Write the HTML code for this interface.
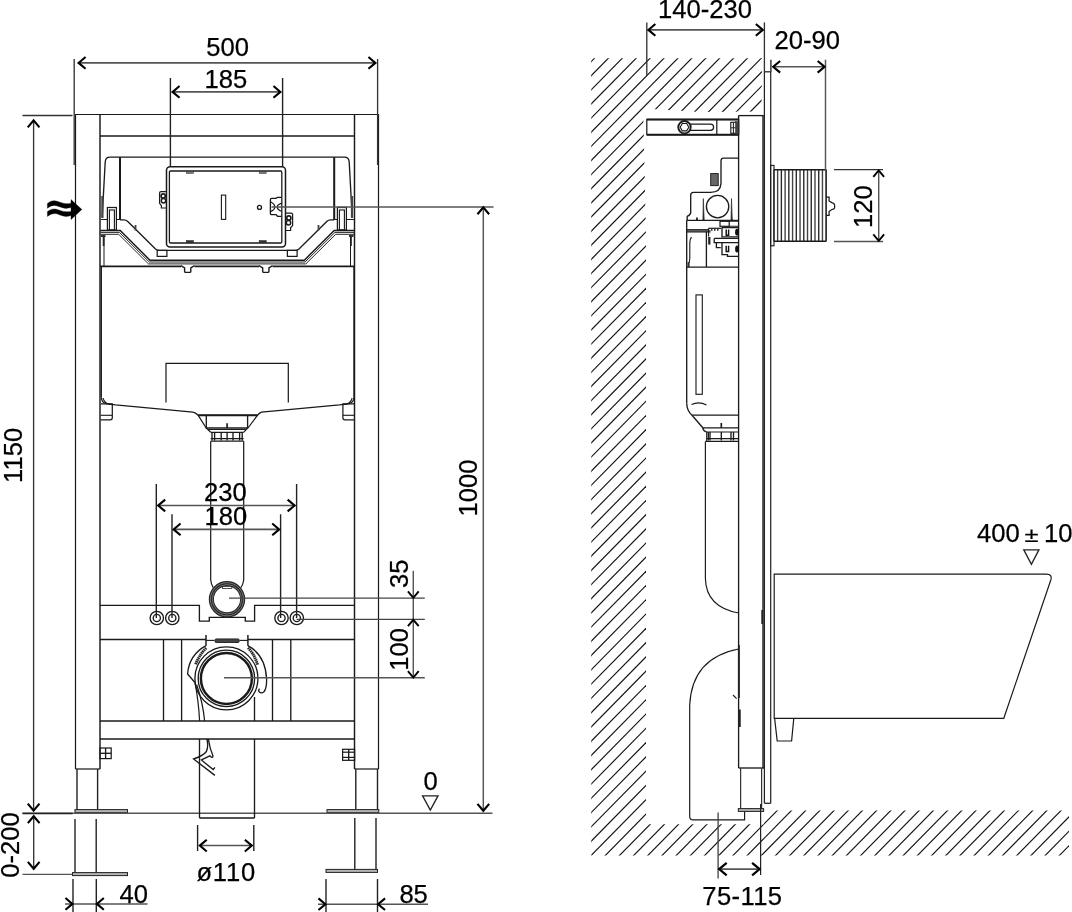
<!DOCTYPE html>
<html><head><meta charset="utf-8"><title>Installation frame dimensions</title>
<style>
html,body{margin:0;padding:0;background:#fff;}
body{width:1072px;height:912px;overflow:hidden;}
svg{display:block;}
svg text{font-family:"Liberation Sans",sans-serif;fill:#000;stroke:#000;stroke-width:0.25px;}
</style></head><body>
<svg width="1072" height="912" viewBox="0 0 1072 912" style="filter:grayscale(1)">
<rect x="0" y="0" width="1072" height="912" fill="#fff"/>
<g id="front-view">
<line x1="75.5" y1="114.5" x2="75.5" y2="769" stroke="#1a1a1a" stroke-width="1.23" />
<line x1="378.5" y1="114.5" x2="378.5" y2="769" stroke="#1a1a1a" stroke-width="1.23" />
<line x1="75" y1="114.5" x2="379" y2="114.5" stroke="#1a1a1a" stroke-width="1.23" />
<line x1="100" y1="114.5" x2="100" y2="769" stroke="#1a1a1a" stroke-width="1.46" />
<line x1="354.5" y1="114.5" x2="354.5" y2="769" stroke="#1a1a1a" stroke-width="1.46" />
<line x1="100" y1="136" x2="354.5" y2="136" stroke="#1a1a1a" stroke-width="1.46" />
<line x1="75.5" y1="769" x2="100" y2="769" stroke="#1a1a1a" stroke-width="1.23" />
<line x1="354.5" y1="769" x2="378.5" y2="769" stroke="#1a1a1a" stroke-width="1.23" />
<line x1="77" y1="769" x2="77" y2="809.5" stroke="#222" stroke-width="1.4" />
<line x1="97.6" y1="769" x2="97.6" y2="809.5" stroke="#222" stroke-width="1.4" />
<line x1="355.8" y1="769" x2="355.8" y2="809.5" stroke="#222" stroke-width="1.4" />
<line x1="377.5" y1="769" x2="377.5" y2="809.5" stroke="#222" stroke-width="1.4" />
<rect x="75" y="809.6" width="52.5" height="3" rx="0" stroke="#222" stroke-width="1.01" fill="#b5b5b5"/>
<rect x="327" y="809.6" width="51.8" height="3" rx="0" stroke="#222" stroke-width="1.01" fill="#b5b5b5"/>
<line x1="22.5" y1="813.3" x2="492.5" y2="813.3" stroke="#555" stroke-width="1.46" />
<line x1="22.5" y1="813.5" x2="72.5" y2="813.5" stroke="#222" stroke-width="1.57" />
<line x1="75" y1="819" x2="75" y2="872.5" stroke="#222" stroke-width="1.4" />
<line x1="96.2" y1="819" x2="96.2" y2="872.5" stroke="#222" stroke-width="1.4" />
<line x1="354.8" y1="818" x2="354.8" y2="869.5" stroke="#222" stroke-width="1.4" />
<line x1="376" y1="818" x2="376" y2="869.5" stroke="#222" stroke-width="1.4" />
<rect x="72.5" y="872.6" width="55" height="3" rx="0" stroke="#222" stroke-width="1.01" fill="#b5b5b5"/>
<rect x="326" y="869.4" width="51.5" height="3" rx="0" stroke="#222" stroke-width="1.01" fill="#b5b5b5"/>
<line x1="22.5" y1="874.3" x2="72.5" y2="874.3" stroke="#555" stroke-width="1.34" />
<rect x="100" y="748" width="11.2" height="10.6" rx="0" stroke="#1a1a1a" stroke-width="1.23" fill="none"/>
<line x1="100" y1="753.3" x2="111.2" y2="753.3" stroke="#1a1a1a" stroke-width="1.34" />
<line x1="105.6" y1="748" x2="105.6" y2="758.6" stroke="#1a1a1a" stroke-width="1.34" />
<rect x="342.6" y="749.3" width="12" height="11" rx="0" stroke="#1a1a1a" stroke-width="1.23" fill="none"/>
<line x1="348.7" y1="749.3" x2="348.7" y2="760.3" stroke="#1a1a1a" stroke-width="1.34" />
<line x1="342.6" y1="752.2" x2="354.6" y2="752.2" stroke="#1a1a1a" stroke-width="1.23" />
<line x1="342.6" y1="757.4" x2="354.6" y2="757.4" stroke="#1a1a1a" stroke-width="1.23" />
<path d="M100,605.3 H199.4 V621.1 H209.3 V617.4 H245.3 V621.1 H254.6 V605.3 H354.5" stroke="#1a1a1a" stroke-width="1.34" fill="none" />
<line x1="100" y1="639.5" x2="206" y2="639.5" stroke="#1a1a1a" stroke-width="1.51" />
<line x1="248" y1="639.5" x2="354.5" y2="639.5" stroke="#1a1a1a" stroke-width="1.51" />
<line x1="163.5" y1="639.5" x2="163.5" y2="721" stroke="#1a1a1a" stroke-width="1.34" />
<line x1="181.6" y1="639.5" x2="181.6" y2="721" stroke="#1a1a1a" stroke-width="1.34" />
<line x1="272.5" y1="639.5" x2="272.5" y2="721" stroke="#1a1a1a" stroke-width="1.34" />
<line x1="290.8" y1="639.5" x2="290.8" y2="721" stroke="#1a1a1a" stroke-width="1.34" />
<line x1="100" y1="721" x2="354.5" y2="721" stroke="#1a1a1a" stroke-width="1.51" />
<line x1="100" y1="739" x2="354.5" y2="739" stroke="#1a1a1a" stroke-width="1.51" />
<circle cx="156.8" cy="618" r="6.7" stroke="#1a1a1a" stroke-width="1.34" fill="none"/>
<circle cx="156.8" cy="618" r="3.6" stroke="#1a1a1a" stroke-width="1.34" fill="none"/>
<circle cx="172.3" cy="618" r="6.7" stroke="#1a1a1a" stroke-width="1.34" fill="none"/>
<circle cx="172.3" cy="618" r="3.6" stroke="#1a1a1a" stroke-width="1.34" fill="none"/>
<circle cx="281.5" cy="618" r="6.7" stroke="#1a1a1a" stroke-width="1.34" fill="none"/>
<circle cx="281.5" cy="618" r="3.6" stroke="#1a1a1a" stroke-width="1.34" fill="none"/>
<circle cx="296.8" cy="618" r="6.7" stroke="#1a1a1a" stroke-width="1.34" fill="none"/>
<circle cx="296.8" cy="618" r="3.6" stroke="#1a1a1a" stroke-width="1.34" fill="none"/>
<path d="M102.2,217 L105.2,162 Q105.6,157.2 110,157.2 H344.4 Q348.8,157.2 349.2,162 L352.2,217" stroke="#1a1a1a" stroke-width="1.34" fill="none" />
<line x1="120" y1="157.2" x2="120" y2="220" stroke="#1a1a1a" stroke-width="2.02" />
<line x1="334.2" y1="157.2" x2="334.2" y2="220" stroke="#1a1a1a" stroke-width="2.02" />
<line x1="102.4" y1="196" x2="102.4" y2="218" stroke="#444" stroke-width="2.24" />
<line x1="352" y1="196" x2="352" y2="218" stroke="#444" stroke-width="2.24" />
<rect x="107.4" y="207.5" width="9" height="22.5" rx="0" stroke="#1a1a1a" stroke-width="1.23" fill="none"/>
<rect x="109.4" y="210" width="5" height="20" rx="0" stroke="#1a1a1a" stroke-width="1.12" fill="none"/>
<rect x="337.4" y="207.5" width="9" height="22.5" rx="0" stroke="#1a1a1a" stroke-width="1.23" fill="none"/>
<rect x="339.4" y="210" width="5" height="20" rx="0" stroke="#1a1a1a" stroke-width="1.12" fill="none"/>
<path d="M101,219.5 H107.4 M116.4,219.5 H120" stroke="#1a1a1a" stroke-width="1.23" fill="none" />
<path d="M334.2,219.5 H337.4 M346.4,219.5 H354" stroke="#1a1a1a" stroke-width="1.23" fill="none" />
<path d="M120,219.8 H124 Q126,219.8 127.5,221.3 L155.5,248.9 Q157.2,250.4 159.5,250.4 H295 Q297.3,250.4 299,248.9 L327,221.3 Q328.5,219.8 330.5,219.8 H334.2" stroke="#1a1a1a" stroke-width="1.34" fill="none" />
<line x1="135.5" y1="225" x2="135.5" y2="230.5" stroke="#444" stroke-width="1.79" />
<line x1="318.5" y1="225" x2="318.5" y2="230.5" stroke="#444" stroke-width="1.79" />
<path d="M100.5,230.6 H120.2 L150.0,260.2 H304.3 L334.2,230.6 H354" stroke="#1a1a1a" stroke-width="1.46" fill="none" />
<path d="M100.5,232.4 H119.462 L149.262,262.0 H305.038 L334.938,232.4 H354" stroke="#1a1a1a" stroke-width="0.95" fill="none" />
<path d="M100.5,234.29999999999998 H118.683 L148.483,263.9 H305.817 L335.717,234.29999999999998 H354" stroke="#1a1a1a" stroke-width="0.95" fill="none" />
<path d="M101,236 H105.5 M103.6,236 V246" stroke="#333" stroke-width="1.79" fill="none" />
<path d="M353.5,236 H349 M351,236 V246" stroke="#333" stroke-width="1.79" fill="none" />
<line x1="104" y1="236" x2="104" y2="266" stroke="#1a1a1a" stroke-width="1.01" />
<line x1="350.5" y1="236" x2="350.5" y2="266" stroke="#1a1a1a" stroke-width="1.01" />
<rect x="157.2" y="250.4" width="9.7" height="6" rx="0" stroke="#1a1a1a" stroke-width="1.23" fill="none"/>
<rect x="287.4" y="250.4" width="9.7" height="6" rx="0" stroke="#1a1a1a" stroke-width="1.23" fill="none"/>
<path d="M100,266.3 H181 M194.5,266.3 H259 M272.6,266.3 H354.5" stroke="#1a1a1a" stroke-width="1.68" fill="none" />
<path d="M180.89999999999998,265.7 L184.6,268 V271.4 Q184.6,272.4 185.6,272.4 H189.79999999999998 Q190.79999999999998,272.4 190.79999999999998,271.4 V268 L194.5,265.7" stroke="#1a1a1a" stroke-width="1.4" fill="none" />
<path d="M259.0,265.7 L262.7,268 V271.4 Q262.7,272.4 263.7,272.4 H267.90000000000003 Q268.90000000000003,272.4 268.90000000000003,271.4 V268 L272.6,265.7" stroke="#1a1a1a" stroke-width="1.4" fill="none" />
<rect x="166.5" y="166.8" width="119" height="80.3" rx="3.5" stroke="#1a1a1a" stroke-width="1.51" fill="#fff"/>
<rect x="169.4" y="171" width="112.4" height="72" rx="1.2" stroke="#1a1a1a" stroke-width="1.29" fill="none"/>
<rect x="186.4" y="171.3" width="7" height="2" rx="0" stroke="#333" stroke-width="0.56" fill="#777"/>
<rect x="186.4" y="240.6" width="7" height="2" rx="0" stroke="#222" stroke-width="0.56" fill="#333"/>
<rect x="259.2" y="171.3" width="7" height="2" rx="0" stroke="#333" stroke-width="0.56" fill="#777"/>
<rect x="259.2" y="240.6" width="7" height="2" rx="0" stroke="#222" stroke-width="0.56" fill="#333"/>
<rect x="221.4" y="195.1" width="4.3" height="24.3" rx="0" stroke="#1a1a1a" stroke-width="1.12" fill="none"/>
<circle cx="259.5" cy="207.4" r="2.0" stroke="#1a1a1a" stroke-width="1.34" fill="none"/>
<path d="M281.7,197.3 H277.5 L276.1,198.4 H271.6 Q270.4,198.5 270.4,199.9 V213.4 Q270.4,214.6 271.6,214.6 H276.1 L277.5,216.3 H281.7" stroke="#1a1a1a" stroke-width="1.34" fill="none" />
<path d="M270.9,202 Q274.8,204 274.8,206.9 Q274.8,209.6 270.9,211.4" stroke="#1a1a1a" stroke-width="1.23" fill="none" />
<path d="M281.7,203.1 Q277.2,204.6 277.2,206.9 Q277.2,209.4 281.7,211.3" stroke="#1a1a1a" stroke-width="1.23" fill="none" />
<path d="M166.5,191.6 H161 Q159.6,191.6 159.6,193 V203.4 L161.4,205.6 V208 H166.5" stroke="#1a1a1a" stroke-width="1.23" fill="none" />
<circle cx="163.2" cy="196" r="2.1" stroke="#1a1a1a" stroke-width="1.68" fill="none"/>
<circle cx="163.5" cy="200.8" r="2.2" stroke="#1a1a1a" stroke-width="1.46" fill="none"/>
<path d="M285.5,213.2 H291.2 Q292.6,213.2 292.6,214.6 V225.6 L290.6,227.8 V230.5 H285.5" stroke="#1a1a1a" stroke-width="1.23" fill="none" />
<circle cx="288.8" cy="217.9" r="2.1" stroke="#1a1a1a" stroke-width="1.68" fill="none"/>
<circle cx="288.5" cy="222.7" r="2.2" stroke="#1a1a1a" stroke-width="1.46" fill="none"/>
<line x1="101.3" y1="266.8" x2="101.3" y2="397.5" stroke="#1a1a1a" stroke-width="1.34" />
<line x1="354" y1="266.8" x2="354" y2="397.5" stroke="#1a1a1a" stroke-width="1.34" />
<path d="M101.3,397.5 Q101.8,402.5 106,403.6 L115.5,404.9 L192.9,412.2 Q195.5,412.6 198.2,415.3 H257.4 Q260,412.6 261.5,412.2 L339.5,404.9 L349,403.6 Q353.5,402.5 354,397.5" stroke="#1a1a1a" stroke-width="1.34" fill="none" />
<line x1="198.2" y1="415.3" x2="257.4" y2="415.3" stroke="#1a1a1a" stroke-width="2.02" />
<path d="M166,402.4 V363.3 H288.3 V402.4" stroke="#1a1a1a" stroke-width="1.23" fill="none" />
<path d="M100.6,403.8 h11.7 v14 q0,2 -2,2 h-9.7" stroke="#1a1a1a" stroke-width="1.23" fill="none" />
<path d="M100.6,415.3 h11.7" stroke="#1a1a1a" stroke-width="1.12" fill="none" />
<path d="M103.1,398 q1,6 9,6.8" stroke="#1a1a1a" stroke-width="1.12" fill="none" />
<path d="M354.6,403.8 h-11.7 v14 q0,2 2,2 h9.7" stroke="#1a1a1a" stroke-width="1.23" fill="none" />
<path d="M354.6,415.3 h-11.7" stroke="#1a1a1a" stroke-width="1.12" fill="none" />
<path d="M352.1,398 q-1,6 -9,6.8" stroke="#1a1a1a" stroke-width="1.12" fill="none" />
<path d="M198.2,415.3 L206.2,428 M257.4,415.3 L248,428" stroke="#1a1a1a" stroke-width="1.23" fill="none" />
<path d="M206.3,415.3 V428 H247.6 V415.3" stroke="#1a1a1a" stroke-width="1.34" fill="none" />
<line x1="227.1" y1="423.2" x2="227.1" y2="428" stroke="#1a1a1a" stroke-width="1.68" />
<path d="M206.3,428 L210.7,432.3 M247.6,428 L243.6,432.3" stroke="#1a1a1a" stroke-width="1.23" fill="none" />
<line x1="208" y1="429.5" x2="246" y2="429.5" stroke="#1a1a1a" stroke-width="1.23" />
<line x1="210.7" y1="432.3" x2="243.6" y2="432.3" stroke="#1a1a1a" stroke-width="1.23" />
<line x1="212" y1="432.3" x2="212" y2="440.5" stroke="#1a1a1a" stroke-width="1.34" />
<line x1="214.6" y1="432.3" x2="214.6" y2="440.5" stroke="#1a1a1a" stroke-width="1.34" />
<line x1="221.2" y1="432.3" x2="221.2" y2="440.5" stroke="#1a1a1a" stroke-width="1.34" />
<line x1="227.1" y1="432.3" x2="227.1" y2="440.5" stroke="#1a1a1a" stroke-width="1.34" />
<line x1="233" y1="432.3" x2="233" y2="440.5" stroke="#1a1a1a" stroke-width="1.34" />
<line x1="239.6" y1="432.3" x2="239.6" y2="440.5" stroke="#1a1a1a" stroke-width="1.34" />
<line x1="242.2" y1="432.3" x2="242.2" y2="440.5" stroke="#1a1a1a" stroke-width="1.34" />
<line x1="210.7" y1="438.7" x2="243.6" y2="438.7" stroke="#1a1a1a" stroke-width="1.34" />
<line x1="210.7" y1="441.2" x2="243.8" y2="441.2" stroke="#1a1a1a" stroke-width="1.23" />
<path d="M210.7,441.2 V580 Q211.2,584.5 213.2,587.6" stroke="#1a1a1a" stroke-width="1.23" fill="none" />
<path d="M243.7,441.2 V580 Q243.2,584.5 240.9,587.6" stroke="#1a1a1a" stroke-width="1.23" fill="none" />
<circle cx="227" cy="599.3" r="15.65" stroke="#262626" stroke-width="5.15" fill="none"/>
<circle cx="227" cy="599.3" r="16.6" stroke="#c8c8c8" stroke-width="0.5" fill="none"/>
<circle cx="227" cy="599.3" r="14.7" stroke="#bdbdbd" stroke-width="0.5" fill="none"/>
<rect x="222.6" y="586.6" width="9.2" height="1.9" rx="0" stroke="#222" stroke-width="0.78" fill="#fff"/>
<circle cx="226.4" cy="678.4" r="31.5" stroke="#1a1a1a" stroke-width="1.34" fill="none"/>
<circle cx="226.4" cy="678.4" r="28.2" stroke="#1a1a1a" stroke-width="1.34" fill="none"/>
<circle cx="226.4" cy="678.4" r="25.5" stroke="#1a1a1a" stroke-width="2.46" fill="none"/>
<path d="M206,635 V645.7 M247.9,635 V645.7" stroke="#1a1a1a" stroke-width="1.46" fill="none" />
<line x1="206" y1="640.4" x2="214.6" y2="640.4" stroke="#1a1a1a" stroke-width="1.12" />
<line x1="239.6" y1="640.4" x2="247.9" y2="640.4" stroke="#1a1a1a" stroke-width="1.12" />
<rect x="215" y="638.9" width="24.2" height="3.6" rx="1.2" stroke="#222" stroke-width="0.9" fill="#444"/>
<path d="M206,645.7 Q189,655 187.6,674 L194.9,682.5" stroke="#1a1a1a" stroke-width="1.34" fill="none" />
<path d="M247.9,645.7 Q265.5,655 266.6,679 Q266.8,688 264.2,691.5 Q261.5,694 259.3,692 Q258,690.3 259.6,688.8" stroke="#1a1a1a" stroke-width="1.34" fill="none" />
<path d="M195.6,664.2 Q199.5,654.5 206.6,647.6" stroke="#262626" stroke-width="2.91" fill="none" stroke-dasharray="1.5 0.5"/>
<path d="M257.6,664.6 Q254.5,654.5 247.8,647.4" stroke="#262626" stroke-width="2.91" fill="none" stroke-dasharray="1.5 0.5"/>
<path d="M194.9,682.5 Q198.5,700 199.6,721 M196.6,684.5 Q203,703 204.6,721" stroke="#1a1a1a" stroke-width="1.23" fill="none" />
<path d="M207,739 Q208.6,747 206.4,751.5 Q203.5,755.5 193.6,759 L214.9,775.4 M208.4,739 Q209.6,748 213,756 Q212.4,758.8 209.8,755.8 L201.4,760 L213.2,769.6 L214.9,767.4" stroke="#1a1a1a" stroke-width="1.34" fill="none" />
<line x1="199.5" y1="739" x2="199.5" y2="818" stroke="#1a1a1a" stroke-width="1.34" />
<line x1="254.5" y1="739" x2="254.5" y2="818" stroke="#1a1a1a" stroke-width="1.34" />
<line x1="199.5" y1="818" x2="254.5" y2="818" stroke="#1a1a1a" stroke-width="1.34" />
<line x1="254.5" y1="697" x2="254.5" y2="721" stroke="#1a1a1a" stroke-width="1.34" />
<line x1="74.2" y1="59" x2="74.2" y2="165" stroke="#333" stroke-width="1.34" />
<line x1="377.6" y1="59" x2="377.6" y2="165" stroke="#333" stroke-width="1.34" />
<line x1="79" y1="62.9" x2="375" y2="62.9" stroke="#555" stroke-width="1.57" />
<path d="M85.55999999999999,57.05 L78.6,62.9 L85.55999999999999,68.75" stroke="#000" stroke-width="2.13" fill="none" stroke-linejoin="miter"/>
<path d="M368.44,57.05 L375.4,62.9 L368.44,68.75" stroke="#000" stroke-width="2.13" fill="none" stroke-linejoin="miter"/>
<text x="227.6" y="56.3" font-size="25.6" text-anchor="middle">500</text>
<line x1="170.4" y1="78" x2="170.4" y2="166.5" stroke="#222" stroke-width="1.4" />
<line x1="282.6" y1="78" x2="282.6" y2="166.5" stroke="#222" stroke-width="1.4" />
<line x1="173" y1="91.9" x2="280" y2="91.9" stroke="#555" stroke-width="1.57" />
<path d="M179.56,86.05000000000001 L172.6,91.9 L179.56,97.75" stroke="#000" stroke-width="2.13" fill="none" stroke-linejoin="miter"/>
<path d="M273.44,86.05000000000001 L280.4,91.9 L273.44,97.75" stroke="#000" stroke-width="2.13" fill="none" stroke-linejoin="miter"/>
<text x="225.8" y="87.7" font-size="25.6" text-anchor="middle">185</text>
<line x1="22.5" y1="115.5" x2="72.5" y2="115.5" stroke="#333" stroke-width="1.34" />
<line x1="33.6" y1="121" x2="33.6" y2="810" stroke="#333" stroke-width="1.34" />
<path d="M27.75,127.36 L33.6,120.4 L39.45,127.36" stroke="#000" stroke-width="2.13" fill="none" stroke-linejoin="miter"/>
<path d="M27.75,803.64 L33.6,810.6 L39.45,803.64" stroke="#000" stroke-width="2.13" fill="none" stroke-linejoin="miter"/>
<text x="22.3" y="455.4" font-size="25.6" text-anchor="middle" transform="rotate(-90 22.3 455.4)">1150</text>
<line x1="33.7" y1="817" x2="33.7" y2="868" stroke="#333" stroke-width="1.34" />
<path d="M27.85,823.1600000000001 L33.7,816.2 L39.550000000000004,823.1600000000001" stroke="#000" stroke-width="2.13" fill="none" stroke-linejoin="miter"/>
<path d="M27.85,861.8399999999999 L33.7,868.8 L39.550000000000004,861.8399999999999" stroke="#000" stroke-width="2.13" fill="none" stroke-linejoin="miter"/>
<text x="18.6" y="845" font-size="25.6" text-anchor="middle" transform="rotate(-90 18.6 845)">0-200</text>
<line x1="73" y1="879" x2="73" y2="912" stroke="#222" stroke-width="1.4" />
<line x1="96.3" y1="879" x2="96.3" y2="912" stroke="#222" stroke-width="1.4" />
<line x1="65" y1="903.9" x2="147.5" y2="903.9" stroke="#555" stroke-width="1.46" />
<path d="M65.44000000000001,898.05 L72.4,903.9 L65.44000000000001,909.75" stroke="#000" stroke-width="2.13" fill="none" stroke-linejoin="miter"/>
<path d="M103.86,898.05 L96.9,903.9 L103.86,909.75" stroke="#000" stroke-width="2.13" fill="none" stroke-linejoin="miter"/>
<text x="119.5" y="902.6" font-size="25.6" text-anchor="start">40</text>
<line x1="326" y1="879" x2="326" y2="912" stroke="#222" stroke-width="1.4" />
<line x1="377.5" y1="879" x2="377.5" y2="912" stroke="#222" stroke-width="1.4" />
<line x1="318" y1="904.2" x2="428" y2="904.2" stroke="#555" stroke-width="1.46" />
<path d="M318.44,898.35 L325.4,904.2 L318.44,910.0500000000001" stroke="#000" stroke-width="2.13" fill="none" stroke-linejoin="miter"/>
<path d="M385.06,898.35 L378.1,904.2 L385.06,910.0500000000001" stroke="#000" stroke-width="2.13" fill="none" stroke-linejoin="miter"/>
<text x="399.4" y="902.6" font-size="25.6" text-anchor="start">85</text>
<line x1="197.6" y1="825" x2="197.6" y2="851" stroke="#222" stroke-width="1.4" />
<line x1="253.8" y1="825" x2="253.8" y2="851" stroke="#222" stroke-width="1.4" />
<line x1="200" y1="845.6" x2="251.5" y2="845.6" stroke="#555" stroke-width="1.46" />
<path d="M206.76000000000002,839.75 L199.8,845.6 L206.76000000000002,851.45" stroke="#000" stroke-width="2.13" fill="none" stroke-linejoin="miter"/>
<path d="M244.84,839.75 L251.8,845.6 L244.84,851.45" stroke="#000" stroke-width="2.13" fill="none" stroke-linejoin="miter"/>
<text x="226.2" y="881.3" font-size="25.6" text-anchor="middle" letter-spacing="0.8">ø110</text>
<line x1="156.3" y1="484" x2="156.3" y2="618" stroke="#222" stroke-width="1.4" />
<line x1="296.6" y1="484" x2="296.6" y2="618" stroke="#222" stroke-width="1.4" />
<line x1="172" y1="514.3" x2="172" y2="618" stroke="#222" stroke-width="1.4" />
<line x1="280.6" y1="514.3" x2="280.6" y2="618" stroke="#222" stroke-width="1.4" />
<line x1="159" y1="505.5" x2="294" y2="505.5" stroke="#555" stroke-width="1.57" />
<path d="M165.16,499.65 L158.2,505.5 L165.16,511.35" stroke="#000" stroke-width="2.13" fill="none" stroke-linejoin="miter"/>
<path d="M287.64000000000004,499.65 L294.6,505.5 L287.64000000000004,511.35" stroke="#000" stroke-width="2.13" fill="none" stroke-linejoin="miter"/>
<line x1="174" y1="529.4" x2="279" y2="529.4" stroke="#555" stroke-width="1.57" />
<path d="M180.56,523.55 L173.6,529.4 L180.56,535.25" stroke="#000" stroke-width="2.13" fill="none" stroke-linejoin="miter"/>
<path d="M272.24,523.55 L279.2,529.4 L272.24,535.25" stroke="#000" stroke-width="2.13" fill="none" stroke-linejoin="miter"/>
<text x="225.4" y="501.2" font-size="25.6" text-anchor="middle">230</text>
<text x="225.8" y="525.3" font-size="25.6" text-anchor="middle">180</text>
<line x1="271.5" y1="206.9" x2="493.5" y2="206.9" stroke="#555" stroke-width="1.46" />
<line x1="483.3" y1="208" x2="483.3" y2="810" stroke="#555" stroke-width="1.46" />
<path d="M477.45,214.26000000000002 L483.3,207.3 L489.15000000000003,214.26000000000002" stroke="#000" stroke-width="2.13" fill="none" stroke-linejoin="miter"/>
<path d="M477.45,803.8399999999999 L483.3,810.8 L489.15000000000003,803.8399999999999" stroke="#000" stroke-width="2.13" fill="none" stroke-linejoin="miter"/>
<text x="476.5" y="488" font-size="25.6" text-anchor="middle" transform="rotate(-90 476.5 488)">1000</text>
<line x1="229" y1="598.2" x2="424.8" y2="598.2" stroke="#444" stroke-width="1.34" />
<line x1="296.6" y1="619.4" x2="424.8" y2="619.4" stroke="#444" stroke-width="1.34" />
<line x1="224" y1="677.8" x2="424.8" y2="677.8" stroke="#555" stroke-width="1.46" />
<line x1="413.3" y1="570.8" x2="413.3" y2="677.5" stroke="#555" stroke-width="1.46" />
<path d="M407.90000000000003,591.38 L413.3,597.8 L418.7,591.38" stroke="#000" stroke-width="1.9" fill="none" stroke-linejoin="miter"/>
<path d="M407.90000000000003,626.2199999999999 L413.3,619.8 L418.7,626.2199999999999" stroke="#000" stroke-width="1.9" fill="none" stroke-linejoin="miter"/>
<path d="M407.90000000000003,671.1800000000001 L413.3,677.6 L418.7,671.1800000000001" stroke="#000" stroke-width="1.9" fill="none" stroke-linejoin="miter"/>
<text x="407.8" y="573.8" font-size="25.6" text-anchor="middle" transform="rotate(-90 407.8 573.8)">35</text>
<text x="407.8" y="649.3" font-size="25.6" text-anchor="middle" transform="rotate(-90 407.8 649.3)">100</text>
<text x="430.7" y="789.6" font-size="25.6" text-anchor="middle">0</text>
<path d="M422.6,795.9 H438 L430.3,810 Z" stroke="#222" stroke-width="1.34" fill="none" />
<path d="M47.4,203.6 Q52,198.8 58.6,201.8 T71,203.2 V199.6 L81.9,209.4 L71,219.6 V215.6 Q65.5,217.8 59.4,214.8 T47.4,216.4 V211.6 Q52.4,207.2 58.8,210 T71,211.4 V207.6 Q65,209.6 58.8,206.6 T47.4,208.2 Z" stroke="#000" stroke-width="0.34" fill="#000" />
</g>
<g id="side-view">
<defs><clipPath id="wallclip"><path d="M591.2,58.2 H762 L761.4,111.5 L700,112 L655,109.3 H643.2 L646,235 V824.2 H764 V810.5 H1069 V855.6 H591.2 Z"/></clipPath></defs>
<g clip-path="url(#wallclip)" stroke="#111" stroke-width="1.15">
<line x1="-213.96" y1="880" x2="612.40" y2="40"/>
<line x1="-200.06" y1="880" x2="626.30" y2="40"/>
<line x1="-186.16" y1="880" x2="640.20" y2="40"/>
<line x1="-172.26" y1="880" x2="654.10" y2="40"/>
<line x1="-158.36" y1="880" x2="668.00" y2="40"/>
<line x1="-144.46" y1="880" x2="681.90" y2="40"/>
<line x1="-130.56" y1="880" x2="695.80" y2="40"/>
<line x1="-116.66" y1="880" x2="709.70" y2="40"/>
<line x1="-102.76" y1="880" x2="723.61" y2="40"/>
<line x1="-88.86" y1="880" x2="737.51" y2="40"/>
<line x1="-74.96" y1="880" x2="751.41" y2="40"/>
<line x1="-61.06" y1="880" x2="765.31" y2="40"/>
<line x1="-47.16" y1="880" x2="779.21" y2="40"/>
<line x1="-33.26" y1="880" x2="793.11" y2="40"/>
<line x1="-19.37" y1="880" x2="807.00" y2="40"/>
<line x1="-5.48" y1="880" x2="820.88" y2="40"/>
<line x1="8.41" y1="880" x2="834.77" y2="40"/>
<line x1="22.29" y1="880" x2="848.66" y2="40"/>
<line x1="36.18" y1="880" x2="862.55" y2="40"/>
<line x1="50.07" y1="880" x2="876.44" y2="40"/>
<line x1="63.96" y1="880" x2="890.32" y2="40"/>
<line x1="77.85" y1="880" x2="904.21" y2="40"/>
<line x1="91.73" y1="880" x2="918.10" y2="40"/>
<line x1="105.62" y1="880" x2="931.99" y2="40"/>
<line x1="119.51" y1="880" x2="945.87" y2="40"/>
<line x1="133.40" y1="880" x2="959.76" y2="40"/>
<line x1="147.29" y1="880" x2="973.65" y2="40"/>
<line x1="161.17" y1="880" x2="987.54" y2="40"/>
<line x1="175.06" y1="880" x2="1001.43" y2="40"/>
<line x1="189.01" y1="880" x2="1015.37" y2="40"/>
<line x1="202.95" y1="880" x2="1029.31" y2="40"/>
<line x1="216.89" y1="880" x2="1043.25" y2="40"/>
<line x1="230.83" y1="880" x2="1057.19" y2="40"/>
<line x1="244.77" y1="880" x2="1071.13" y2="40"/>
<line x1="258.71" y1="880" x2="1085.07" y2="40"/>
<line x1="272.65" y1="880" x2="1099.01" y2="40"/>
<line x1="286.59" y1="880" x2="1112.95" y2="40"/>
<line x1="300.53" y1="880" x2="1126.89" y2="40"/>
<line x1="314.47" y1="880" x2="1140.83" y2="40"/>
<line x1="328.41" y1="880" x2="1154.77" y2="40"/>
<line x1="342.35" y1="880" x2="1168.71" y2="40"/>
<line x1="356.29" y1="880" x2="1182.65" y2="40"/>
<line x1="370.32" y1="880" x2="1196.69" y2="40"/>
<line x1="384.37" y1="880" x2="1210.74" y2="40"/>
<line x1="398.42" y1="880" x2="1224.79" y2="40"/>
<line x1="412.47" y1="880" x2="1238.83" y2="40"/>
<line x1="426.52" y1="880" x2="1252.88" y2="40"/>
<line x1="440.57" y1="880" x2="1266.93" y2="40"/>
<line x1="454.61" y1="880" x2="1280.98" y2="40"/>
<line x1="468.66" y1="880" x2="1295.03" y2="40"/>
<line x1="482.71" y1="880" x2="1309.08" y2="40"/>
<line x1="496.76" y1="880" x2="1323.12" y2="40"/>
<line x1="510.81" y1="880" x2="1337.17" y2="40"/>
<line x1="524.85" y1="880" x2="1351.22" y2="40"/>
<line x1="538.90" y1="880" x2="1365.27" y2="40"/>
<line x1="552.95" y1="880" x2="1379.32" y2="40"/>
<line x1="567.00" y1="880" x2="1393.36" y2="40"/>
<line x1="581.19" y1="880" x2="1407.55" y2="40"/>
<line x1="595.38" y1="880" x2="1421.74" y2="40"/>
<line x1="609.57" y1="880" x2="1435.93" y2="40"/>
<line x1="623.76" y1="880" x2="1450.12" y2="40"/>
<line x1="637.95" y1="880" x2="1464.31" y2="40"/>
<line x1="652.14" y1="880" x2="1478.50" y2="40"/>
<line x1="666.33" y1="880" x2="1492.69" y2="40"/>
<line x1="680.52" y1="880" x2="1506.88" y2="40"/>
<line x1="694.71" y1="880" x2="1521.07" y2="40"/>
<line x1="708.90" y1="880" x2="1535.26" y2="40"/>
<line x1="723.09" y1="880" x2="1549.45" y2="40"/>
<line x1="737.28" y1="880" x2="1563.64" y2="40"/>
<line x1="751.47" y1="880" x2="1577.83" y2="40"/>
<line x1="765.66" y1="880" x2="1592.02" y2="40"/>
<line x1="779.85" y1="880" x2="1606.21" y2="40"/>
<line x1="794.04" y1="880" x2="1620.40" y2="40"/>
<line x1="808.23" y1="880" x2="1634.59" y2="40"/>
<line x1="822.42" y1="880" x2="1648.78" y2="40"/>
<line x1="836.61" y1="880" x2="1662.97" y2="40"/>
<line x1="850.80" y1="880" x2="1677.16" y2="40"/>
<line x1="864.99" y1="880" x2="1691.35" y2="40"/>
<line x1="879.18" y1="880" x2="1705.54" y2="40"/>
<line x1="893.37" y1="880" x2="1719.73" y2="40"/>
<line x1="907.56" y1="880" x2="1733.92" y2="40"/>
<line x1="921.75" y1="880" x2="1748.11" y2="40"/>
<line x1="935.94" y1="880" x2="1762.30" y2="40"/>
<line x1="950.13" y1="880" x2="1776.49" y2="40"/>
<line x1="964.32" y1="880" x2="1790.68" y2="40"/>
<line x1="978.51" y1="880" x2="1804.87" y2="40"/>
<line x1="992.70" y1="880" x2="1819.06" y2="40"/>
<line x1="1006.89" y1="880" x2="1833.25" y2="40"/>
<line x1="1021.08" y1="880" x2="1847.44" y2="40"/>
<line x1="1035.27" y1="880" x2="1861.63" y2="40"/>
<line x1="1049.46" y1="880" x2="1875.82" y2="40"/>
<line x1="1063.65" y1="880" x2="1890.01" y2="40"/>
<line x1="1077.84" y1="880" x2="1904.20" y2="40"/>
<line x1="1092.03" y1="880" x2="1918.39" y2="40"/>
<line x1="1106.22" y1="880" x2="1932.58" y2="40"/>
<line x1="1120.41" y1="880" x2="1946.77" y2="40"/>
</g>
<line x1="763.3" y1="115.5" x2="763.3" y2="768" stroke="#555" stroke-width="2.46" />
<line x1="764.4" y1="71.8" x2="764.4" y2="803.3" stroke="#222" stroke-width="1.23" />
<line x1="770.7" y1="71.8" x2="770.7" y2="803.3" stroke="#222" stroke-width="1.23" />
<line x1="764.4" y1="71.8" x2="770.7" y2="71.8" stroke="#1a1a1a" stroke-width="1.23" />
<line x1="764.4" y1="803.3" x2="770.7" y2="803.3" stroke="#1a1a1a" stroke-width="1.23" />
<line x1="738.6" y1="115.6" x2="738.6" y2="768" stroke="#1a1a1a" stroke-width="1.34" />
<line x1="738.6" y1="115.6" x2="763.8" y2="115.6" stroke="#1a1a1a" stroke-width="1.34" />
<line x1="738.6" y1="768" x2="764.2" y2="768" stroke="#1a1a1a" stroke-width="1.34" />
<line x1="740.6" y1="768" x2="740.6" y2="808.5" stroke="#333" stroke-width="1.23" />
<line x1="761.6" y1="768" x2="761.6" y2="808.5" stroke="#333" stroke-width="1.23" />
<rect x="738.3" y="808.6" width="25.3" height="2.8" rx="0" stroke="#222" stroke-width="1.01" fill="#b5b5b5"/>
<line x1="762.2" y1="610" x2="762.2" y2="624" stroke="#222" stroke-width="1.79" />
<line x1="738.9" y1="645" x2="738.9" y2="698" stroke="#222" stroke-width="1.9" />
<line x1="739.5" y1="709.5" x2="739.5" y2="727" stroke="#222" stroke-width="2.46" />
<path d="M733,695 L736.6,698.6" stroke="#1a1a1a" stroke-width="1.12" fill="none" />
<rect x="646.8" y="119.5" width="91.8" height="15.2" rx="0" stroke="#1a1a1a" stroke-width="1.23" fill="none"/>
<line x1="646.8" y1="119.5" x2="738.6" y2="119.5" stroke="#1a1a1a" stroke-width="1.9" />
<line x1="646.8" y1="134.7" x2="738.6" y2="134.7" stroke="#1a1a1a" stroke-width="1.9" />
<line x1="716.8" y1="119.5" x2="716.8" y2="134.7" stroke="#1a1a1a" stroke-width="1.23" />
<rect x="730.8" y="122.3" width="7.8" height="11" rx="0" stroke="#1a1a1a" stroke-width="1.12" fill="none"/>
<line x1="733.4" y1="122.3" x2="733.4" y2="133.3" stroke="#1a1a1a" stroke-width="1.01" />
<line x1="730.8" y1="127.8" x2="738.6" y2="127.8" stroke="#1a1a1a" stroke-width="0.9" />
<rect x="735.4" y="121.6" width="3" height="12.4" rx="0" stroke="#333" stroke-width="0.45" fill="#444"/>
<circle cx="684.5" cy="127.2" r="6.2" stroke="#1a1a1a" stroke-width="1.9" fill="none"/>
<path d="M680.2,127.2 L682.3,123.5 H686.7 L688.8,127.2 L686.7,130.9 H682.3 Z" stroke="#1a1a1a" stroke-width="1.12" fill="none" />
<path d="M690,124.1 H710.5 Q713.6,124.1 713.6,127.2 Q713.6,130.3 710.5,130.3 H690" stroke="#1a1a1a" stroke-width="1.23" fill="none" />
<rect x="770.6" y="165.4" width="3.4" height="80.4" rx="0" stroke="#1a1a1a" stroke-width="1.12" fill="none"/>
<line x1="773.9" y1="169.8" x2="773.9" y2="241.3" stroke="#2a2a2a" stroke-width="1.4" />
<line x1="777.63" y1="169.8" x2="777.63" y2="241.3" stroke="#444" stroke-width="1.4" />
<line x1="781.37" y1="169.8" x2="781.37" y2="241.3" stroke="#2a2a2a" stroke-width="1.4" />
<line x1="785.11" y1="169.8" x2="785.11" y2="241.3" stroke="#444" stroke-width="1.4" />
<line x1="788.84" y1="169.8" x2="788.84" y2="241.3" stroke="#2a2a2a" stroke-width="1.4" />
<line x1="792.57" y1="169.8" x2="792.57" y2="241.3" stroke="#444" stroke-width="1.4" />
<line x1="796.31" y1="169.8" x2="796.31" y2="241.3" stroke="#2a2a2a" stroke-width="1.4" />
<line x1="800.04" y1="169.8" x2="800.04" y2="241.3" stroke="#444" stroke-width="1.4" />
<line x1="803.78" y1="169.8" x2="803.78" y2="241.3" stroke="#2a2a2a" stroke-width="1.4" />
<line x1="807.51" y1="169.8" x2="807.51" y2="241.3" stroke="#444" stroke-width="1.4" />
<line x1="811.25" y1="169.8" x2="811.25" y2="241.3" stroke="#2a2a2a" stroke-width="1.4" />
<line x1="814.99" y1="169.8" x2="814.99" y2="241.3" stroke="#444" stroke-width="1.4" />
<line x1="818.72" y1="169.8" x2="818.72" y2="241.3" stroke="#2a2a2a" stroke-width="1.4" />
<line x1="822.45" y1="169.8" x2="822.45" y2="241.3" stroke="#444" stroke-width="1.4" />
<line x1="826.19" y1="169.8" x2="826.19" y2="241.3" stroke="#2a2a2a" stroke-width="1.4" />
<line x1="773.9" y1="169.8" x2="826.2" y2="169.8" stroke="#1a1a1a" stroke-width="1.46" />
<line x1="773.9" y1="241.3" x2="826.2" y2="241.3" stroke="#1a1a1a" stroke-width="1.46" />
<line x1="826.2" y1="169.8" x2="826.2" y2="241.3" stroke="#333" stroke-width="1.46" />
<path d="M826.2,197.2 H829.1 V201 L831.8,202.6 Q834.6,203.4 834.6,205.2 V207.4 Q834.6,209 831.8,209.6 L829.1,211.5 V215.3 H826.2" stroke="#1a1a1a" stroke-width="1.23" fill="none" />
<path d="M738.6,158.2 H723.6 Q721,158.2 721,161 V183.5 Q720.5,192.3 710.6,192.3 H693.6 Q690.7,192.3 690.7,195.2 V212.7 Q690.4,215 687.2,216.4 V220.3" stroke="#1a1a1a" stroke-width="1.34" fill="none" />
<rect x="710.7" y="173.6" width="7.5" height="12" rx="0" stroke="#222" stroke-width="1.01" fill="#666"/>
<circle cx="717.6" cy="206.6" r="11.2" stroke="#1a1a1a" stroke-width="1.34" fill="none"/>
<path d="M703.3,198.6 L702.9,220 H704.2 Z" stroke="#222" stroke-width="0.67" fill="#333" />
<path d="M731.5,198.6 L731,220 H732.3 Z" stroke="#222" stroke-width="0.67" fill="#333" />
<line x1="686.8" y1="220.3" x2="738.6" y2="220.3" stroke="#1a1a1a" stroke-width="1.34" />
<line x1="697" y1="217.6" x2="697" y2="220.3" stroke="#1a1a1a" stroke-width="1.79" />
<line x1="686.8" y1="231.4" x2="710.6" y2="231.4" stroke="#444" stroke-width="2.46" />
<line x1="686.8" y1="229.6" x2="708.5" y2="229.6" stroke="#1a1a1a" stroke-width="1.01" />
<line x1="708.5" y1="228.3" x2="721.5" y2="228.3" stroke="#1a1a1a" stroke-width="1.23" />
<path d="M711,229.8 h1.5 M714,229.8 h1.5 M717,229.8 h1.5" stroke="#333" stroke-width="1.79" fill="none" />
<line x1="708.6" y1="228.3" x2="708.6" y2="236.5" stroke="#1a1a1a" stroke-width="1.12" />
<line x1="709.3" y1="237" x2="709.3" y2="244.6" stroke="#222" stroke-width="2.24" />
<line x1="706.4" y1="231.4" x2="706.4" y2="267.1" stroke="#1a1a1a" stroke-width="1.34" />
<rect x="720" y="221.3" width="9.2" height="5" rx="0" stroke="#1a1a1a" stroke-width="1.23" fill="none"/>
<path d="M729.2,221.3 H738.6 M729.2,226.3 H738.6" stroke="#1a1a1a" stroke-width="1.12" fill="none" />
<path d="M722,227.6 H738.6 M722,227.6 V236.9 H738.6" stroke="#1a1a1a" stroke-width="1.34" fill="none" />
<path d="M714.2,238.4 H738.6 M714.2,238.4 V242.7 H738.6" stroke="#1a1a1a" stroke-width="1.34" fill="none" />
<path d="M716.4,242.7 V247.6 H720.8 M722,242.7 V254.6 H727.5 V256.3 H738.6" stroke="#1a1a1a" stroke-width="1.34" fill="none" />
<path d="M726.2,229.5 V235.2 H728.6 V229.5 M726.2,245.8 V251.6 H728.6 V245.8" stroke="#111" stroke-width="1.46" fill="none" />
<ellipse cx="737" cy="232.2" rx="1.9" ry="3.4" fill="#111"/><ellipse cx="737" cy="249" rx="1.9" ry="3.6" fill="#111"/>
<line x1="686.7" y1="220.3" x2="686.7" y2="403.5" stroke="#1a1a1a" stroke-width="1.34" />
<path d="M691.5,237 Q689.8,239 689.8,244 V258 Q689.8,262.5 688,264.5" stroke="#1a1a1a" stroke-width="1.12" fill="none" />
<line x1="688.6" y1="262" x2="688.6" y2="267" stroke="#333" stroke-width="2.02" />
<line x1="686.7" y1="267.1" x2="738.6" y2="267.1" stroke="#1a1a1a" stroke-width="1.34" />
<path d="M686.7,403.5 Q687,411 692,415.2 H738.6" stroke="#1a1a1a" stroke-width="1.34" fill="none" />
<path d="M692,415.2 L702.8,427.8 H738.6" stroke="#1a1a1a" stroke-width="1.34" fill="none" />
<path d="M691.5,404.5 Q699,401 706.5,405" stroke="#1a1a1a" stroke-width="1.12" fill="none" />
<rect x="696" y="294.9" width="6.3" height="99.4" rx="0" stroke="#1a1a1a" stroke-width="1.12" fill="none"/>
<line x1="721.3" y1="423" x2="721.3" y2="427.8" stroke="#1a1a1a" stroke-width="1.68" />
<path d="M702.8,427.8 Q703.2,431 706.7,432 H738.6" stroke="#1a1a1a" stroke-width="1.23" fill="none" />
<line x1="708.3" y1="432" x2="708.3" y2="440.5" stroke="#1a1a1a" stroke-width="1.34" />
<line x1="710" y1="432" x2="710" y2="440.5" stroke="#1a1a1a" stroke-width="1.34" />
<line x1="721.3" y1="432" x2="721.3" y2="440.5" stroke="#1a1a1a" stroke-width="1.34" />
<line x1="731" y1="432" x2="731" y2="440.5" stroke="#1a1a1a" stroke-width="1.34" />
<line x1="733.5" y1="432" x2="733.5" y2="440.5" stroke="#1a1a1a" stroke-width="1.34" />
<line x1="706.7" y1="438.6" x2="738.6" y2="438.6" stroke="#1a1a1a" stroke-width="1.34" />
<line x1="705.4" y1="441.4" x2="738.6" y2="441.4" stroke="#1a1a1a" stroke-width="1.23" />
<line x1="706.7" y1="432" x2="706.7" y2="441.4" stroke="#1a1a1a" stroke-width="1.12" />
<path d="M705.4,441.4 V578.5 Q706,607 738.6,613" stroke="#1a1a1a" stroke-width="1.18" fill="none" />
<path d="M738.6,649 Q692,658 689.7,705 V816.5 Q689.7,819.9 693,819.9 H744.6 V811.4" stroke="#1a1a1a" stroke-width="1.18" fill="none" />
<path d="M774.2,574.2 H1046.5 Q1052.5,574.2 1050.8,580 L1003.8,718.3 H774.2 Z" stroke="#1a1a1a" stroke-width="1.18" fill="none" />
<path d="M774.6,718.3 L777.2,741 H791.6 L793.8,718.3" stroke="#1a1a1a" stroke-width="1.23" fill="none" />
<line x1="646.8" y1="22.4" x2="646.8" y2="75.6" stroke="#333" stroke-width="1.34" />
<line x1="764.4" y1="22.4" x2="764.4" y2="72" stroke="#333" stroke-width="1.34" />
<line x1="649" y1="29.9" x2="762" y2="29.9" stroke="#555" stroke-width="1.57" />
<path d="M655.36,24.049999999999997 L648.4,29.9 L655.36,35.75" stroke="#000" stroke-width="2.13" fill="none" stroke-linejoin="miter"/>
<path d="M755.8399999999999,24.049999999999997 L762.8,29.9 L755.8399999999999,35.75" stroke="#000" stroke-width="2.13" fill="none" stroke-linejoin="miter"/>
<text x="705" y="18.2" font-size="25.6" text-anchor="middle">140-230</text>
<line x1="770.9" y1="59.7" x2="770.9" y2="72" stroke="#333" stroke-width="1.46" />
<line x1="825.5" y1="59.7" x2="825.5" y2="169.8" stroke="#555" stroke-width="1.46" />
<line x1="774" y1="66.8" x2="824" y2="66.8" stroke="#555" stroke-width="1.57" />
<path d="M780.1600000000001,60.949999999999996 L773.2,66.8 L780.1600000000001,72.64999999999999" stroke="#000" stroke-width="2.13" fill="none" stroke-linejoin="miter"/>
<path d="M817.64,60.949999999999996 L824.6,66.8 L817.64,72.64999999999999" stroke="#000" stroke-width="2.13" fill="none" stroke-linejoin="miter"/>
<text x="807.2" y="48.6" font-size="25.6" text-anchor="middle">20-90</text>
<line x1="834" y1="169.6" x2="883" y2="169.6" stroke="#333" stroke-width="1.34" />
<line x1="834" y1="241.4" x2="883" y2="241.4" stroke="#555" stroke-width="1.46" />
<line x1="878.7" y1="171" x2="878.7" y2="240.4" stroke="#555" stroke-width="1.46" />
<path d="M873.3000000000001,176.82 L878.7,170.4 L884.1,176.82" stroke="#000" stroke-width="1.9" fill="none" stroke-linejoin="miter"/>
<path d="M873.3000000000001,234.38000000000002 L878.7,240.8 L884.1,234.38000000000002" stroke="#000" stroke-width="1.9" fill="none" stroke-linejoin="miter"/>
<text x="872.3" y="206.6" font-size="25.6" text-anchor="middle" transform="rotate(-90 872.3 206.6)">120</text>
<line x1="718.1" y1="812.5" x2="718.1" y2="878.5" stroke="#444" stroke-width="1.34" />
<line x1="760.6" y1="804" x2="760.6" y2="875" stroke="#222" stroke-width="1.23" />
<line x1="720.5" y1="869.1" x2="758.5" y2="869.1" stroke="#555" stroke-width="1.57" />
<path d="M726.69,862.8000000000001 L719.2,869.1 L726.69,875.4" stroke="#000" stroke-width="2.24" fill="none" stroke-linejoin="miter"/>
<path d="M752.11,862.8000000000001 L759.6,869.1 L752.11,875.4" stroke="#000" stroke-width="2.24" fill="none" stroke-linejoin="miter"/>
<text x="742.4" y="905.2" font-size="25.6" text-anchor="middle" letter-spacing="0.4">75-115</text>
<text x="977" y="542.3" font-size="25.6" text-anchor="start">400</text>
<text x="1024.6" y="542.3" font-size="25.6" transform="translate(0 542.3) scale(1 0.76) translate(0 -542.3)" stroke="#000" stroke-width="0.5">±</text>
<text x="1044" y="542.3" font-size="25.6" text-anchor="start">10</text>
<path d="M1023.8,549.9 H1038.9 L1031.4,564.2 Z" stroke="#222" stroke-width="1.34" fill="none" />
</g>
</svg>
</body></html>
